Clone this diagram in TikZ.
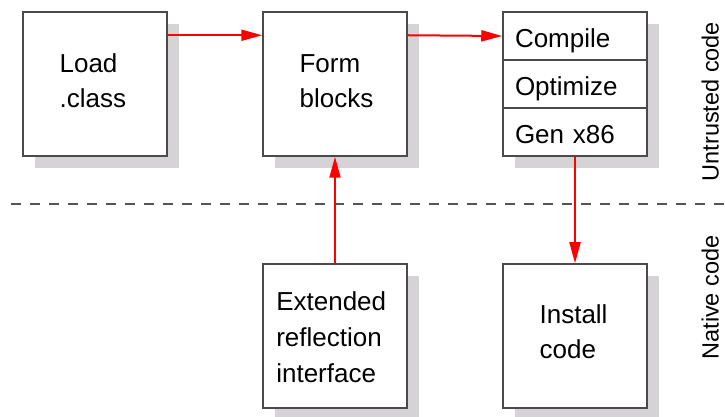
\documentclass[tikz,border=0pt]{standalone}
\usepackage{fontspec}
\setmainfont{Liberation Sans}
\usetikzlibrary{arrows.meta,shadows}
\definecolor{boxgray}{HTML}{4A4A4A}
\definecolor{shadegray}{HTML}{D6D3D6}
\definecolor{dashgray}{HTML}{555555}
\tikzset{
  stage/.style={draw=boxgray, line width=1.5pt, fill=white, minimum width=144pt, minimum height=144pt,
    inner sep=0pt, align=left, text width=70.8pt, text height=19pt, text depth=42pt,
    font=\fontsize{26}{35.5}\selectfont,
    drop shadow={shadow xshift=12pt, shadow yshift=-12pt, fill=shadegray, opacity=1}},
  pass/.style={stage, minimum height=48pt, text width=120pt, text height=23.4pt, text depth=0pt},
  flow/.style={red, line width=2pt, -{Triangle[length=21pt,width=11pt]}},
  zone/.style={rotate=90, anchor=base, font=\fontsize{23.5}{28}\selectfont}
}
\begin{document}
\begin{tikzpicture}[x=1pt,y=1pt]
\useasboundingbox (0,0) rectangle (725,417);
\draw[dashgray, line width=1.3pt, dash pattern=on 10pt off 9pt] (11,213) -- (725,213);
\node[stage] (load) at (95,333) {Load\\.class};
\node[stage] (form) at (335,333) {Form\\blocks};
\node[pass] (compile) at (575,381) {Compile};
\node[pass] (optimize) at (575,333) {Optimize};
\node[pass] (gen) at (575,285) {Gen x86};
\node[stage, text width=117.4pt, text depth=70pt, font=\fontsize{26}{36}\selectfont] (ext) at (335,81) {Extended\\reflection\\interface};
\node[stage, text depth=44pt] (install) at (575,81) {Install\\code};
\draw[flow] ([yshift=-24pt]load.north east) -- ([yshift=-24pt]form.north west);
\draw[flow] ([yshift=-24pt]form.north east) -- (compile.west);
\draw[flow] (ext.north) -- (form.south);
\draw[flow] (gen.south) -- (install.north);
\node[zone] (untrusted) at (718.5,315.3) {Untrusted code};
\node[zone] (native) at (718.5,119.5) {Native code};
\end{tikzpicture}
\end{document}
